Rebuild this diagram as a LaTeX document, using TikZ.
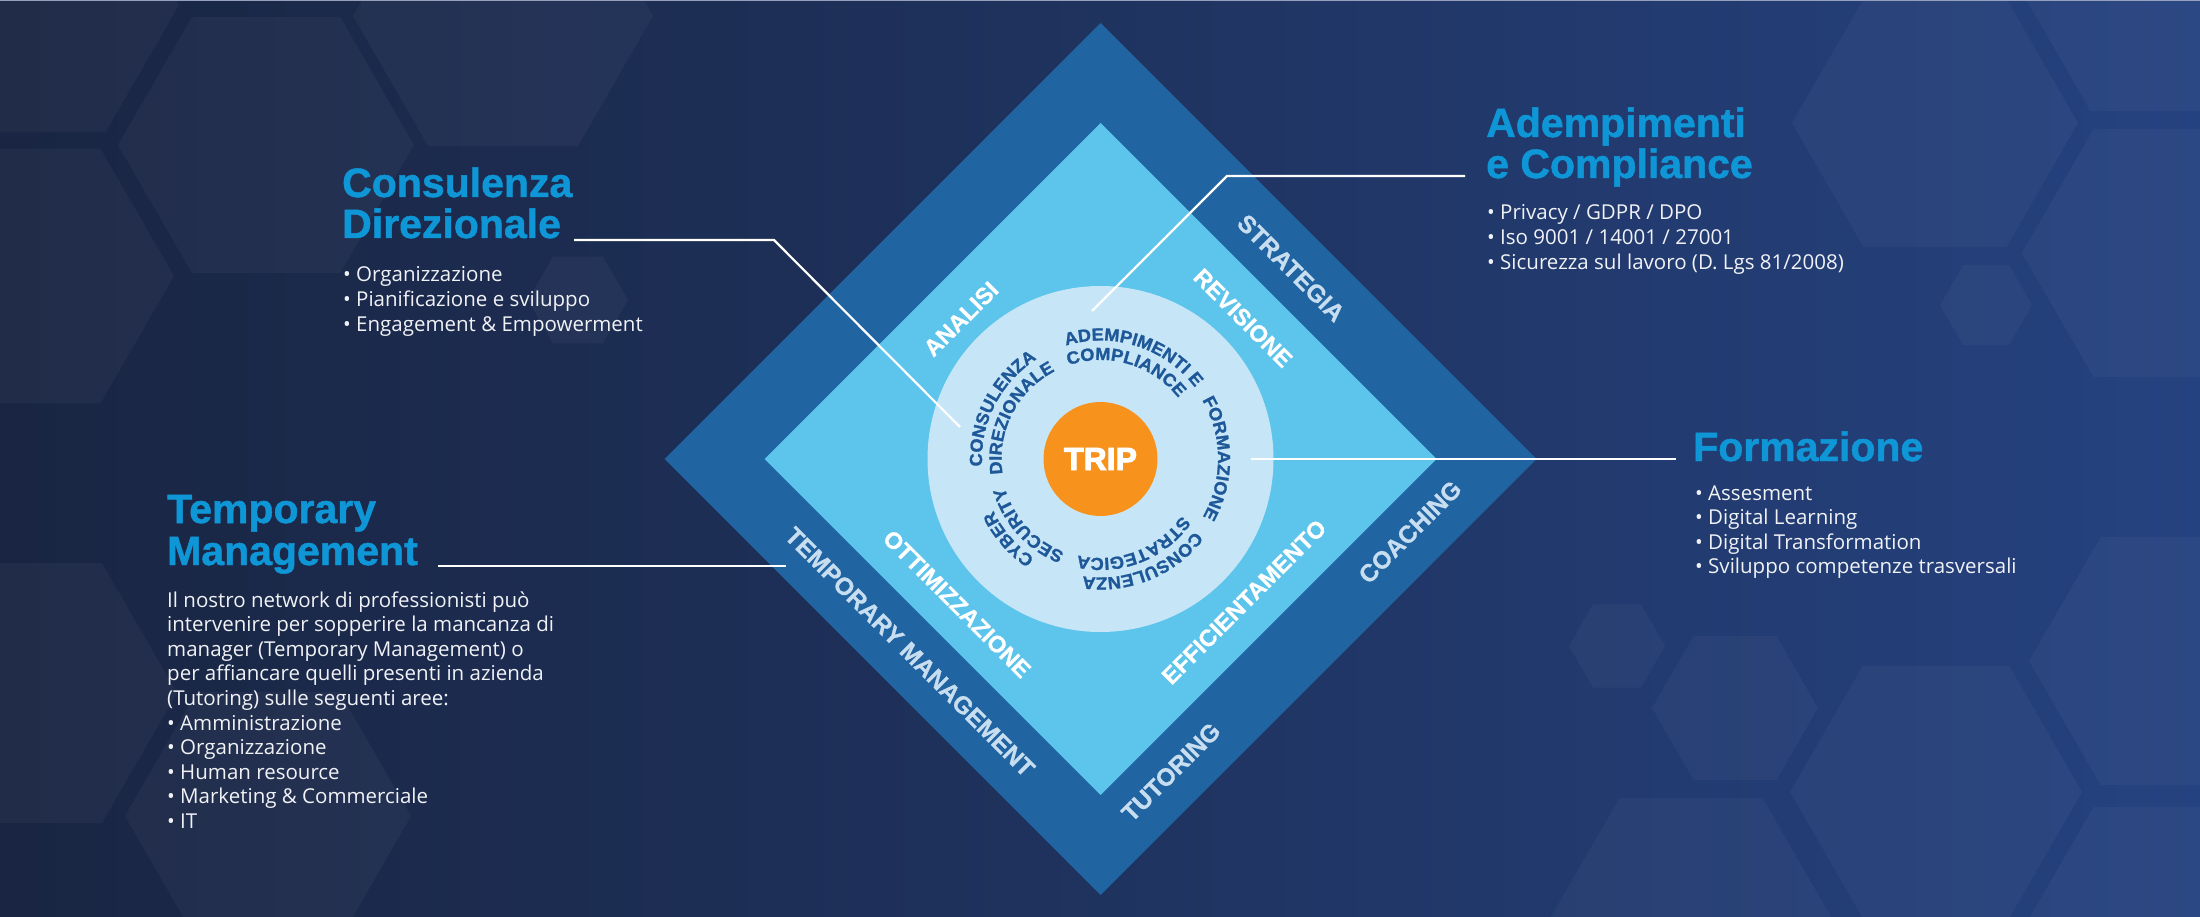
\documentclass[tikz,border=0pt]{standalone}
\usepackage{fontspec}
\setmainfont{Open Sans}
\newfontfamily\headfont{Liberation Sans}[UprightFont={* Bold}, FakeBold=1.2]
\newfontfamily\labelfont{Liberation Sans}[UprightFont={* Bold}, FakeBold=0.8]
\newfontfamily\tripfont{Liberation Sans}[UprightFont={* Bold}, FakeBold=3]
\newfontfamily\circfont{Liberation Sans}[UprightFont={* Bold}, FakeStretch=1.04, FakeBold=1.2]
\usetikzlibrary{decorations.text}
\definecolor{bgL}{RGB}{25,37,66}
\definecolor{bgM}{RGB}{31,51,95}
\definecolor{bgR}{RGB}{37,66,128}
\definecolor{outerblue}{RGB}{33,100,162}
\definecolor{innerblue}{RGB}{93,196,236}
\definecolor{circfill}{RGB}{198,230,247}
\definecolor{orangeC}{RGB}{247,147,29}
\definecolor{headblue}{RGB}{14,150,214}
\definecolor{ctext}{RGB}{30,88,153}
\definecolor{outlbl}{RGB}{199,221,240}
\definecolor{bodytxt}{RGB}{240,242,246}
\definecolor{topline}{RGB}{150,160,188}
\newcommand\ctfont{\circfont\fontsize{17.5}{17.5}\selectfont}
\newcommand\arctext[3]{%
  \path[decorate, decoration={text along path, text align=center, text color=ctext,
        text={|\ctfont|#3}}, shift={(C)}]
     ({#1+80}:#2) arc[start angle={#1+80}, end angle={#1-80}, radius=#2];}
\begin{document}
\begin{tikzpicture}[x=1pt,y=1pt,
  hexcell/.style={fill=white, fill opacity=0.035},
  leader/.style={draw=white, line width=2.2pt},
  head/.style={anchor=base west, inner sep=0pt, text=headblue,
     font=\headfont\fontsize{41}{41}\selectfont},
  body/.style={anchor=base west, inner sep=0pt, text=bodytxt,
     font=\fontsize{20.5}{24.6}\selectfont},
  outlabel/.style={inner sep=0pt, text=outlbl,
     font=\labelfont\fontsize{24.5}{24.5}\selectfont},
  inlabel/.style={inner sep=0pt, text=white,
     font=\labelfont\fontsize{23.5}{23.5}\selectfont}]
\useasboundingbox (0,0) rectangle (2200,-917);
% background
\shade[left color=bgL, right color=bgR, middle color=bgM] (0,0) rectangle (2200,-917);
\begin{scope}
\clip (0,0) rectangle (2200,-917);
\foreach \cx/\cy/\r in {1935/-123/143, 2165/-253/143, 2162/13/143, 1986/-305/46,
   2172/-661/143, 1936/-792/146, 1735/-708/83, 1617/-646/48, 1691/-922/143,
   2165/-931/143, 266/-145/148, 503/-16/150, 27/-276/147, 32/-5/147,
   268/-816/143, 27/-693/150, 578/-300/50}
  \fill[hexcell] (\cx,\cy) +(0:\r) -- +(60:\r) -- +(120:\r) -- +(180:\r)
     -- +(240:\r) -- +(300:\r) -- cycle;
\end{scope}
\draw[topline, line width=1.5pt] (0,-0.75) -- (2200,-0.75);
% diamond and circles
\coordinate (C) at (1100.5,-459);
\fill[outerblue] (C) ++(0,436) -- ++(436,-436) -- ++(-436,-436) -- ++(-436,436) -- cycle;
\fill[innerblue] (C) ++(0,336) -- ++(336,-336) -- ++(-336,-336) -- ++(-336,336) -- cycle;
\fill[circfill] (C) circle[radius=173];
% band labels
\node[outlabel, rotate=-45] (strategia) at (1291,-268) {STRATEGIA};
\node[outlabel, rotate=45] (coaching) at (1410,-532) {COACHING};
\node[outlabel, rotate=45] (tutoring) at (1171,-772) {TUTORING};
\node[outlabel, rotate=-45] (tempman) at (910,-652) {TEMPORARY MANAGEMENT};
\node[inlabel, rotate=45] (analisi) at (961,-319) {ANALISI};
\node[inlabel, rotate=-45] (revisione) at (1243,-318) {REVISIONE};
\node[inlabel, rotate=45] (effic) at (1244,-602) {EFFICIENTAMENTO};
\node[inlabel, rotate=-45] (ottim) at (957,-604) {OTTIMIZZAZIONE};
% circular texts
\arctext{153}{118.5}{CONSULENZA}
\arctext{153}{99}{DIREZIONALE}
\arctext{72}{118.5}{ADEMPIMENTI E}
\arctext{73.5}{99}{COMPLIANCE}
\arctext{0.3}{117.5}{FORMAZIONE}
\arctext{-68}{118.5}{CONSULENZA}
\arctext{-69}{99}{STRATEGICA}
\arctext{-139}{119}{CYBER}
\arctext{-137.5}{100}{SECURITY}
\node[circle, fill=orangeC, minimum size=114pt, inner sep=0pt, text=white,
   font=\tripfont\fontsize{32}{32}\selectfont] (trip) at (C) {TRIP};
% leader lines
\coordinate (cdA) at (574,-240);
\coordinate (cdB) at (774,-240);
\coordinate (cdC) at (960,-427);
\draw[leader] (cdA) -- (cdB) -- (cdC);
\coordinate (acA) at (1465,-176);
\coordinate (acB) at (1227,-176);
\coordinate (acC) at (1092,-311);
\draw[leader] (acA) -- (acB) -- (acC);
\coordinate (fmA) at (1675.5,-459);
\coordinate (fmB) at (1250.7,-459);
\draw[leader] (fmA) -- (fmB);
\coordinate (tmA) at (438,-565.7);
\coordinate (tmB) at (786,-565.7);
\draw[leader] (tmA) -- (tmB);
% Consulenza Direzionale
\node[head] (cdh1) at (342,-197) {Consulenza};
\node[head] (cdh2) at (342,-238) {Direzionale};
\foreach \t [count=\i] in {• Organizzazione, • Pianificazione e sviluppo, • Engagement \& Empowerment}
  \node[body] (cdb\i) at (343,{-282-24.6*(\i-1)}) {\t};
% Adempimenti e Compliance
\node[head] (ach1) at (1486,-137) {Adempimenti};
\node[head] (ach2) at (1486,-178) {e Compliance};
\foreach \t [count=\i] in {• Privacy / GDPR / DPO, • Iso 9001 / 14001 / 27001, • Sicurezza sul lavoro (D. Lgs 81/2008)}
  \node[body] (acb\i) at (1487,{-220-24.6*(\i-1)}) {\t};
% Formazione
\node[head] (fmh1) at (1693,-461) {Formazione};
\foreach \t [count=\i] in {• Assesment, • Digital Learning, • Digital Transformation, • Sviluppo competenze trasversali}
  \node[body] (fmb\i) at (1695,{-500-24.6*(\i-1)}) {\t};
% Temporary Management
\node[head] (tmh1) at (167,-523) {Temporary};
\node[head] (tmh2) at (167,-565) {Management};
\foreach \t [count=\i] in {Il nostro network di professionisti può, intervenire per sopperire la mancanza di,
   manager (Temporary Management) o, per affiancare quelli presenti in azienda,
   (Tutoring) sulle seguenti aree:, • Amministrazione, • Organizzazione, • Human resource,
   • Marketing \& Commerciale, • IT}
  \node[body] (tmb\i) at (167,{-607-24.6*(\i-1)}) {\t};
\end{tikzpicture}
\end{document}
